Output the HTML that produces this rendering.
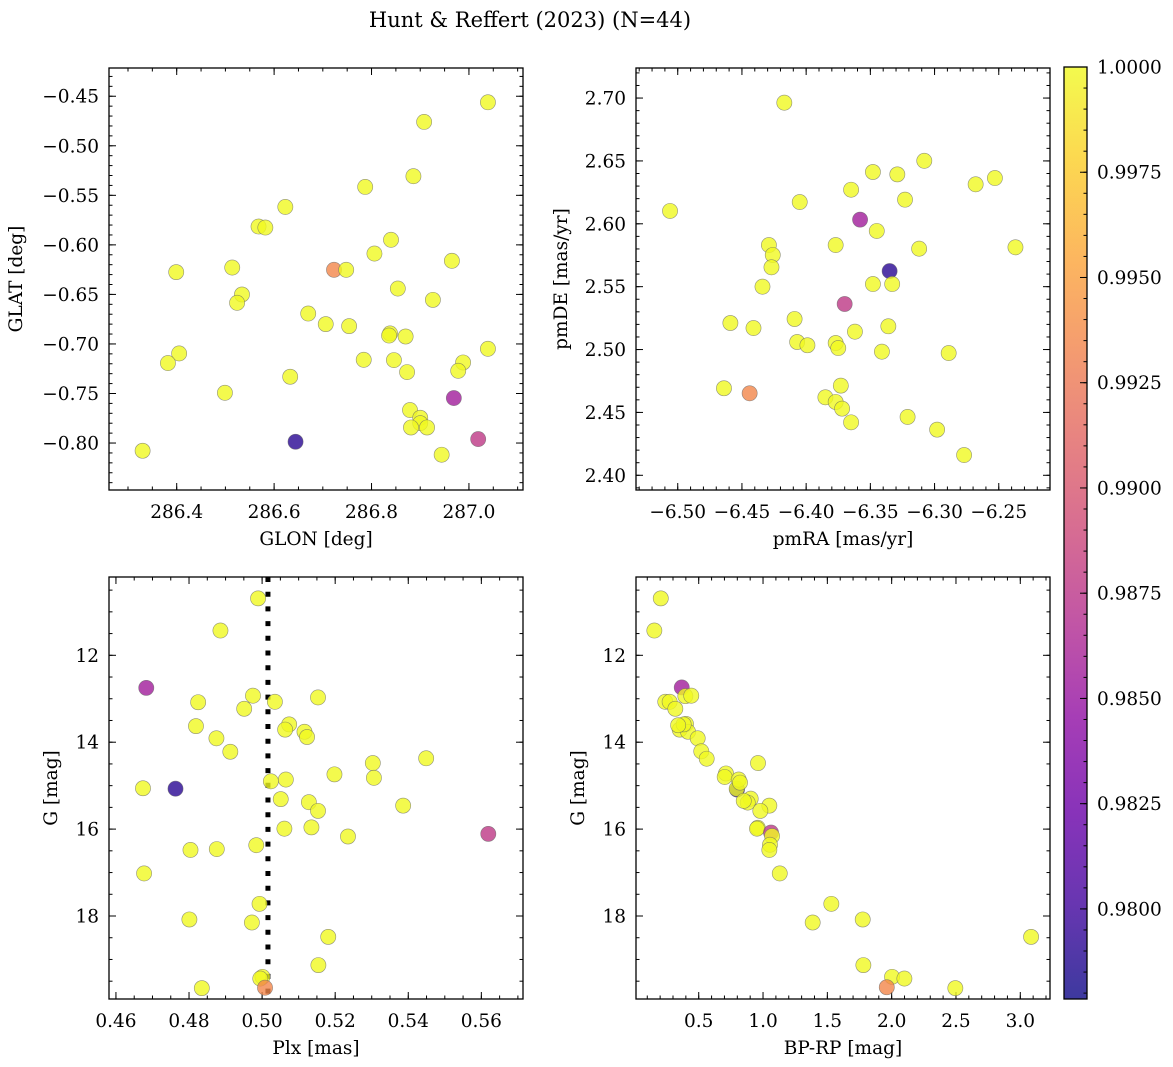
<!DOCTYPE html>
<html><head><meta charset="utf-8"><style>
html,body{margin:0;padding:0;background:#fff;}
svg{display:block;font-family:"DejaVu Serif","Liberation Serif",serif;}
</style></head><body>
<svg id="fig" width="1173" height="1067" viewBox="0 0 1173 1067" xmlns="http://www.w3.org/2000/svg">
<defs>
<linearGradient id="plasma" x1="0" y1="1" x2="0" y2="0">
<stop offset="0" stop-color="#0d0887"/><stop offset="0.1" stop-color="#41049d"/><stop offset="0.2" stop-color="#6a00a8"/><stop offset="0.3" stop-color="#8f0da4"/><stop offset="0.4" stop-color="#b12a90"/><stop offset="0.5" stop-color="#cc4778"/><stop offset="0.6" stop-color="#e16462"/><stop offset="0.7" stop-color="#f2844b"/><stop offset="0.8" stop-color="#fca636"/><stop offset="0.9" stop-color="#fcce25"/><stop offset="1" stop-color="#f0f921"/>
</linearGradient>
</defs>
<text x="530" y="27" font-size="21" text-anchor="middle">Hunt &amp; Reffert (2023) (N=44)</text>
</svg>
<script>
// ---- data ----
const tlGlon = [287.039,286.908,286.886,286.787,286.623,286.568,286.582,286.840,286.806,286.965,286.399,286.514,286.723,286.748,286.854,286.926,286.534,286.524,286.670,286.706,286.754,286.838,286.836,286.870,287.039,286.405,286.382,286.784,286.846,286.988,286.978,286.873,286.633,286.499,286.969,286.879,286.900,286.900,286.881,286.914,286.644,287.019,286.330,286.944];
const tlGlat = [-0.4561,-0.4759,-0.5307,-0.5415,-0.5617,-0.5815,-0.5825,-0.5949,-0.6088,-0.6161,-0.6275,-0.6229,-0.6252,-0.6252,-0.6441,-0.6555,-0.6501,-0.6585,-0.6693,-0.6800,-0.6820,-0.6894,-0.6915,-0.6925,-0.7049,-0.7096,-0.7193,-0.7160,-0.7163,-0.7187,-0.7271,-0.7284,-0.7331,-0.7493,-0.7546,-0.7667,-0.7745,-0.7799,-0.7843,-0.7843,-0.7987,-0.7960,-0.8078,-0.8118];
const tlProb = [1,1,1,1,1,1,1,1,1,1,1,1,0.9935,1,1,1,1,1,1,1,1,1,1,1,1,1,1,1,1,1,1,1,1,1,0.9856,1,1,1,1,1,0.979,0.9877,1,1];

const trPmra = [-6.417,-6.308,-6.348,-6.329,-6.253,-6.268,-6.365,-6.405,-6.323,-6.506,-6.358,-6.345,-6.429,-6.377,-6.312,-6.237,-6.426,-6.427,-6.335,-6.348,-6.333,-6.434,-6.370,-6.459,-6.441,-6.409,-6.336,-6.362,-6.407,-6.399,-6.377,-6.375,-6.341,-6.289,-6.464,-6.444,-6.373,-6.385,-6.377,-6.372,-6.365,-6.321,-6.298,-6.277];
const trPmde = [2.6963,2.6501,2.6412,2.6393,2.6364,2.6314,2.6271,2.6173,2.6192,2.6102,2.6033,2.5943,2.5831,2.5831,2.5802,2.5813,2.5752,2.5654,2.5624,2.5521,2.5521,2.5500,2.5362,2.5211,2.5171,2.5243,2.5185,2.5142,2.5060,2.5034,2.5052,2.5012,2.4983,2.4972,2.4692,2.4652,2.4713,2.4620,2.4583,2.4530,2.4421,2.4464,2.4363,2.4161];
const trProb = [1,1,1,1,1,1,1,1,1,1,0.9856,1,1,1,1,1,1,1,0.979,1,1,1,0.9877,1,1,1,1,1,1,1,1,1,1,1,1,0.9935,1,1,1,1,1,1,1,1];

const blPlx = [0.4989,0.4886,0.4683,0.4825,0.4975,0.4951,0.5035,0.5153,0.4819,0.4875,0.4913,0.5074,0.5063,0.5116,0.5123,0.4674,0.4763,0.5024,0.5065,0.5198,0.5303,0.5306,0.5449,0.5051,0.5128,0.5153,0.5386,0.5619,0.5061,0.5135,0.5235,0.4804,0.4876,0.4984,0.4677,0.4993,0.4801,0.4972,0.5181,0.5154,0.5001,0.4995,0.4835,0.5008];
const blG = [10.69,11.43,12.75,13.08,12.93,13.23,13.07,12.97,13.63,13.91,14.22,13.59,13.71,13.76,13.88,15.06,15.07,14.90,14.86,14.74,14.48,14.82,14.37,15.31,15.38,15.58,15.46,16.11,15.99,15.96,16.17,16.48,16.46,16.37,17.02,17.72,18.08,18.15,18.48,19.13,19.40,19.44,19.66,19.65];
const blProb = [1,1,0.9856,1,1,1,1,1,1,1,1,1,1,1,1,1,0.979,1,1,1,1,1,1,1,1,1,1,0.9877,1,1,1,1,1,1,1,1,1,1,1,1,1,1,1,0.9935];
const refPlx = [0.5016];

const brBprp = [0.205,0.155,0.368,0.396,0.442,0.240,0.274,0.318,0.401,0.352,0.417,0.383,0.492,0.520,0.562,0.961,0.712,0.702,0.798,0.795,0.811,0.821,0.904,0.881,1.049,0.979,0.959,0.953,1.062,1.070,1.054,1.049,1.130,1.531,1.386,1.775,3.084,1.780,2.003,2.099,1.962,2.495,0.340,0.850];
const brG = [10.69,11.43,12.74,12.94,12.93,13.07,13.07,13.23,13.58,13.71,13.76,13.59,13.91,14.21,14.38,14.48,14.72,14.80,15.09,15.07,14.86,14.93,15.30,15.39,15.46,15.58,15.97,15.99,16.08,16.16,16.36,16.48,17.02,17.72,18.15,18.08,18.48,19.13,19.40,19.44,19.64,19.66,13.61,15.35];
const brProb = [1,1,0.9856,1,1,1,1,1,1,1,1,1,1,1,1,1,1,1,0.979,1,1,1,1,1,1,1,1,1,0.9877,1,1,1,1,1,1,1,1,1,1,1,0.9935,1,1,1];

const cbTicks = [1.0000,0.9975,0.9950,0.9925,0.9900,0.9875,0.9850,0.9825,0.9800];
const VMIN = 0.97786, VMAX = 1.0;

// ---- helpers ----
const NS = "http://www.w3.org/2000/svg";
const svg = document.getElementById('fig');
const FS = 18.5;
function mk(tag, attrs, parent){ const e=document.createElementNS(NS,tag); for(const k in attrs) e.setAttribute(k,attrs[k]); (parent||svg).appendChild(e); return e; }
const stops=[[0,[13,8,135]],[0.1,[65,4,157]],[0.2,[106,0,168]],[0.3,[143,13,164]],[0.4,[177,42,144]],[0.5,[204,71,120]],[0.6,[225,100,98]],[0.7,[242,132,75]],[0.8,[252,166,54]],[0.9,[252,206,37]],[1,[240,249,33]]];
function plasma(t){ t=Math.max(0,Math.min(1,t)); for(let i=1;i<stops.length;i++){ if(t<=stops[i][0]){ const a=stops[i-1],b=stops[i]; const f=(t-a[0])/(b[0]-a[0]); const c=a[1].map((v,j)=>Math.round(v+(b[1][j]-v)*f)); return `rgb(${c.join(',')})`; } } return 'rgb(240,249,33)'; }
function fmt(v,d){ return v.toFixed(d).replace('-','\u2212'); }

function panel(o){
  const g=mk('g',{});
  
  
  const L=o.x0,T=o.y0,W=o.w,H=o.h;
  const sx=v=>L+(v-o.xd[0])/(o.xd[1]-o.xd[0])*W;
  const sy=v=>T+(v-o.yd[0])/(o.yd[1]-o.yd[0])*H;
  const tg=mk('g',{stroke:'#000','stroke-width':1},g);
  function ticks(lo,hi,step,len,axis){
    const n0=Math.ceil(lo/step-1e-6), n1=Math.floor(hi/step+1e-6);
    const out=[];
    for(let n=n0;n<=n1;n++){ const v=n*step;
      if(axis==='x'){ const x=sx(v); mk('line',{x1:x,y1:T+H,x2:x,y2:T+H-len},tg); mk('line',{x1:x,y1:T,x2:x,y2:T+len},tg); }
      else { const y=sy(v); mk('line',{x1:L,y1:y,x2:L+len,y2:y},tg); mk('line',{x1:L+W,y1:y,x2:L+W-len,y2:y},tg); }
      out.push(v);}
    return out;
  }
  const xl=Math.min(...o.xd),xh=Math.max(...o.xd),yl=Math.min(...o.yd),yh=Math.max(...o.yd);
  ticks(xl,xh,o.xminor,3.5,'x'); ticks(yl,yh,o.yminor,3.5,'y');
  const xm=ticks(xl,xh,o.xmajor,7,'x'), ym=ticks(yl,yh,o.ymajor,7,'y');
  xm.forEach(v=>{ const t=mk('text',{x:sx(v),y:T+H+28,'font-size':FS,'text-anchor':'middle'},g); t.textContent=fmt(v,o.xdec);
    
     });
  ym.forEach(v=>{ const t=mk('text',{x:L-10,y:sy(v)+6.5,'font-size':FS,'text-anchor':'end'},g); t.textContent=fmt(v,o.ydec);
    
     });
  const xt=mk('text',{x:L+W/2,y:T+H+55,'font-size':FS,'text-anchor':'middle'},g); xt.textContent=o.xlabel;
  
  
  const yt=mk('text',{x:0,y:0,'font-size':FS,'text-anchor':'middle',transform:`translate(${o.ylx},${T+H/2}) rotate(-90)`},g); yt.textContent=o.ylabel;
  
  
  if(o.vline){ o.vline.forEach(v=>{ const ln=mk('line',{x1:sx(v),y1:T,x2:sx(v),y2:T+H,stroke:'#000','stroke-width':5,'stroke-dasharray':'5 9.7'},g);
    
     }); }
  const pg=mk('g',{},g);
  o.xs.forEach((xv,i)=>{ const c=mk('circle',{cx:sx(xv),cy:sy(o.ys[i]),r:7.6,fill:plasma((o.ps[i]-VMIN)/(VMAX-VMIN)),'fill-opacity':0.8,stroke:'#666','stroke-opacity':0.7,'stroke-width':0.6},pg);
    
     });
  const fr=mk('rect',{x:L,y:T,width:W,height:H,fill:'none',stroke:'#000','stroke-width':1.3},g);
  
  
}

panel({name:'glon-glat-panel',x0:109,y0:68,w:414,h:422,xd:[286.261,287.111],yd:[-0.4215,-0.8474],xmajor:0.2,xminor:0.05,ymajor:0.05,yminor:0.01,xdec:1,ydec:2,xlabel:'GLON [deg]',ylabel:'GLAT [deg]',ylx:22,xs:tlGlon,ys:tlGlat,ps:tlProb});
panel({name:'pm-panel',x0:636,y0:68,w:414,h:422,xd:[-6.5325,-6.2101],yd:[2.7239,2.3883],xmajor:0.05,xminor:0.01,ymajor:0.05,yminor:0.01,xdec:2,ydec:2,xlabel:'pmRA [mas/yr]',ylabel:'pmDE [mas/yr]',ylx:567,xs:trPmra,ys:trPmde,ps:trProb});
panel({name:'plx-g-panel',x0:109,y0:577,w:414,h:422,xd:[0.4581,0.5714],yd:[10.198,19.910],xmajor:0.02,xminor:0.005,ymajor:2,yminor:0.5,xdec:2,ydec:0,xlabel:'Plx [mas]',ylabel:'G [mag]',ylx:57,xs:blPlx,ys:blG,ps:blProb,vline:refPlx});
panel({name:'cmd-panel',x0:636,y0:577,w:414,h:422,xd:[0.0124,3.231],yd:[10.198,19.910],xmajor:0.5,xminor:0.1,ymajor:2,yminor:0.5,xdec:1,ydec:0,xlabel:'BP-RP [mag]',ylabel:'G [mag]',ylx:584,xs:brBprp,ys:brG,ps:brProb});

const cb=mk('g',{});


const CX=1064,CT=67,CW=23,CH=932;
mk('rect',{x:CX,y:CT,width:CW,height:CH,fill:'url(#plasma)','fill-opacity':0.8},cb);
const cy=v=>CT+(VMAX-v)/(VMAX-VMIN)*CH;
for(let n=Math.ceil(VMIN/0.0005);n<=Math.floor(VMAX/0.0005+1e-6);n++){ const y=cy(n*0.0005); mk('line',{x1:CX+CW,y1:y,x2:CX+CW-3.5,y2:y,stroke:'#000','stroke-width':1},cb); }
cbTicks.forEach(v=>{ const y=cy(v); mk('line',{x1:CX+CW,y1:y,x2:CX+CW-7,y2:y,stroke:'#000','stroke-width':1},cb);
  const t=mk('text',{x:CX+CW+10,y:y+6.5,'font-size':FS},cb); t.textContent=v.toFixed(4);
  
   });
mk('rect',{x:CX,y:CT,width:CW,height:CH,fill:'none',stroke:'#000','stroke-width':1.3},cb);
</script>
</body></html>
